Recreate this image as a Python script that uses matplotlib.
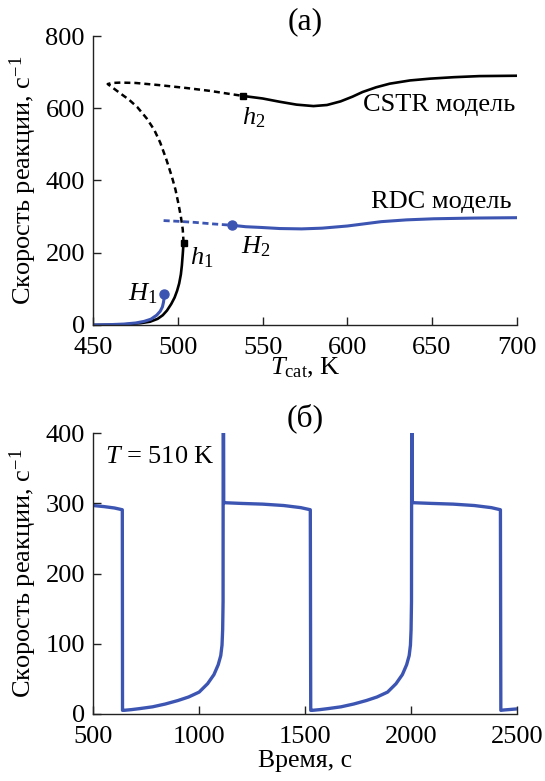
import matplotlib
matplotlib.use("Agg")
import matplotlib.pyplot as plt

plt.rcParams['font.family'] = ['Liberation Serif', 'DejaVu Serif']
plt.rcParams['mathtext.fontset'] = 'custom'
plt.rcParams['mathtext.rm'] = 'Liberation Serif'
plt.rcParams['mathtext.it'] = 'Liberation Serif:italic'
plt.rcParams['font.size'] = 19

BLUE = '#3d55b2'

# (а) бифуркационная диаграмма
# CSTR: нижняя устойчивая ветвь до h1
cstr_low_T = [450, 460, 470, 478, 483.5, 488, 491, 493.5, 496, 498, 499.5, 500.7, 501.7, 502.3, 502.8, 503.3]
cstr_low_r = [0, 0.5, 2, 5, 9, 17, 27, 40, 58, 76, 95, 115, 140, 165, 195, 228]
# CSTR: неустойчивая часть h1 -> точка поворота -> h2
cstr_uns_T = [503.3, 502.8, 501.7, 500.2, 498.5, 496.3, 493, 489.5, 486, 481.5, 476, 471, 466, 462, 458.5,
              461, 466, 475, 489, 505, 519, 530, 538.5]
cstr_uns_r = [228, 265, 300, 337, 375, 412, 460, 505, 540, 572, 603, 624, 641, 655, 667,
              670, 671, 670, 664, 656, 648, 640, 634]
# CSTR: верхняя устойчивая ветвь от h2
cstr_up_T = [538.5, 550, 560, 570, 580, 588, 596, 603, 609, 617, 625, 637, 649, 663, 678, 700]
cstr_up_r = [634, 627, 618, 610, 606, 609, 619, 632, 645, 658, 668, 677, 682, 686, 689, 690]

# RDC
rdc_low_T = [450, 460, 468, 475, 480, 484, 487.4, 489.5, 490.8, 491.4, 491.8, 492]
rdc_low_r = [0, 1, 2.5, 5.5, 10, 16, 27, 38, 50, 62, 74, 85]
rdc_uns_T = [491.5, 500, 510, 520, 532]
rdc_uns_r = [289, 287, 284, 280, 276]
rdc_up_T = [532, 540, 549, 560, 573, 585, 600, 610, 620, 635, 651, 675, 700]
rdc_up_r = [276, 272, 270, 267, 266, 268, 274, 280, 286, 291, 294, 296, 297]

h_pts_T = [503.3, 538.5]
h_pts_r = [228, 634]
H_pts_T = [492, 532]
H_pts_r = [85, 276]

# (б) колебания при T = 510 K
time = [500, 550, 600, 637, 638,
        645, 680, 720, 780, 840, 900, 950, 1000, 1040, 1070, 1090, 1102, 1108, 1111, 1113, 1114, 1116,
        1122, 1200, 1300, 1400, 1480, 1525, 1527,
        1535, 1570, 1610, 1670, 1730, 1790, 1840, 1890, 1930, 1960, 1980, 1992, 1998, 2001, 2003, 2005, 2007,
        2014, 2100, 2200, 2300, 2380, 2423, 2425,
        2440, 2500]
rate = [297, 295.5, 293.5, 291, 5,
        5, 6, 7.5, 10, 14, 19, 24, 31, 43, 56, 70, 83, 98, 120, 160, 700, 302,
        301, 300, 299, 297, 294, 291, 5,
        5, 6, 7.5, 10, 14, 19, 24, 31, 43, 56, 70, 83, 98, 120, 160, 700, 302,
        301, 300, 299, 297, 294, 291, 5,
        5.5, 7]

fig = plt.figure(figsize=(5.45, 7.81), dpi=100)
ax1 = fig.add_axes([0.1712, 0.5839, 0.7769, 0.3700])
ax2 = fig.add_axes([0.1712, 0.0860, 0.7769, 0.3592])

ax1.plot(cstr_low_T, cstr_low_r, color='black', lw=1.9)
ax1.plot(cstr_uns_T, cstr_uns_r, color='black', lw=1.8, dashes=(2.4, 1.6))
ax1.plot(cstr_up_T, cstr_up_r, color='black', lw=1.9)
ax1.plot(rdc_low_T, rdc_low_r, color=BLUE, lw=2.2)
ax1.plot(rdc_uns_T, rdc_uns_r, color=BLUE, lw=2.0, dashes=(2.2, 1.3))
ax1.plot(rdc_up_T, rdc_up_r, color=BLUE, lw=2.2)
ax1.plot(h_pts_T, h_pts_r, 's', color='black', ms=4, ls='none')
ax1.plot(H_pts_T, H_pts_r, 'o', color=BLUE, ms=6.5, ls='none')

ax1.text(699, 591, 'CSTR модель', ha='right', va='baseline')
ax1.text(697, 324, 'RDC модель', ha='right', va='baseline')
ax1.text(538, 556, '$h_2$', ha='left', va='baseline')
ax1.text(507, 168, '$h_1$', ha='left', va='baseline')
ax1.text(537, 198, '$H_2$', ha='left', va='baseline')
ax1.text(488, 68, '$H_1$', ha='right', va='baseline')

ax1.set_xlim(450, 700)
ax1.set_ylim(0, 800)
ax1.set_xticks([450, 500, 550, 600, 650, 700])
ax1.set_yticks([0, 200, 400, 600, 800])
ax1.set_xlabel('$T_{\\rm cat}$, K', labelpad=-3)
ax1.set_ylabel('Скорость реакции, с$^{-1}$', labelpad=5)
ax1.set_title('(а)', pad=4)

ax2.plot(time, rate, color=BLUE, lw=2.4)
ax2.text(555, 366, '$T$ = 510 K', ha='left', va='center')
ax2.set_xlim(500, 2500)
ax2.set_ylim(0, 400)
ax2.set_xticks([500, 1000, 1500, 2000, 2500])
ax2.set_yticks([0, 100, 200, 300, 400])
ax2.set_xlabel('Время, с', labelpad=1, fontsize=18.5)
ax2.set_ylabel('Скорость реакции, с$^{-1}$', labelpad=5)
ax2.set_title('(б)', pad=4)

for ax in (ax1, ax2):
    ax.spines['top'].set_visible(False)
    ax.spines['right'].set_visible(False)
    for s in ('left', 'bottom'):
        ax.spines[s].set_linewidth(1.0)
        ax.spines[s].set_color('#222222')
    ax.tick_params(direction='in', length=6, width=1.0, color='#222222', labelsize=19)
    ax.tick_params(axis='y', pad=6)
    ax.tick_params(axis='x', pad=9)

fig.savefig('out.png', dpi=100)
